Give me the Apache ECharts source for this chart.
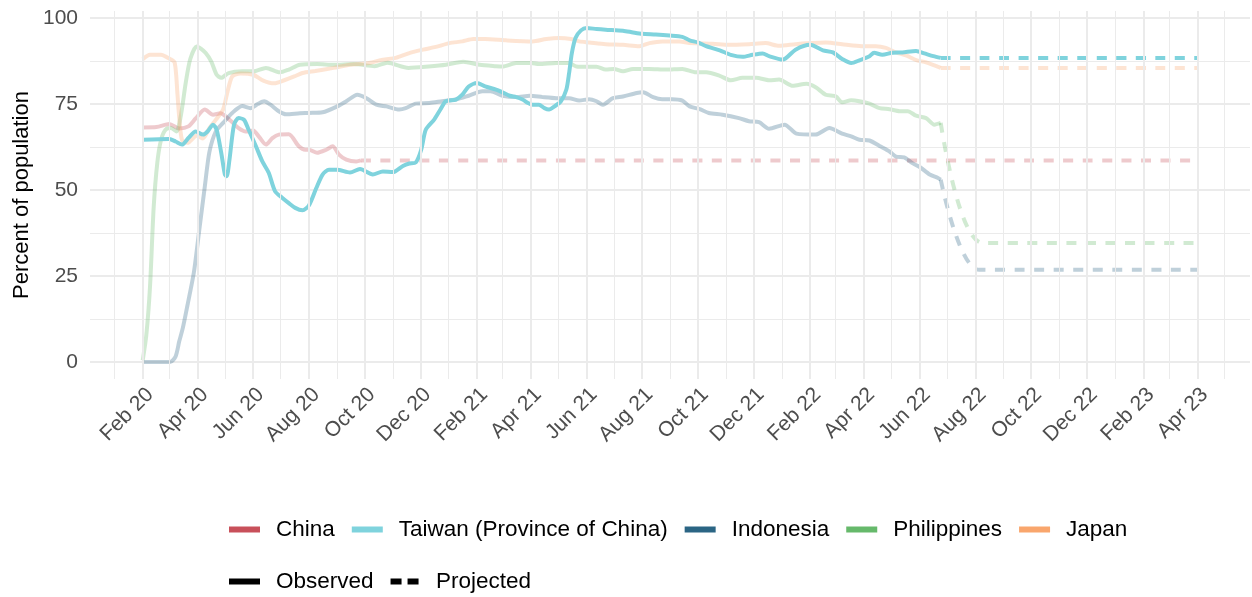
<!DOCTYPE html>
<html>
<head>
<meta charset="utf-8">
<script src="https://cdn.jsdelivr.net/npm/echarts@6/dist/echarts.min.js"></script>
<style>
html,body{margin:0;padding:0;background:#ffffff;}
#chart{width:1252px;height:597px;}
</style>
</head>
<body>
<div id="chart"></div>
<script>
// ---------------- DATA ----------------
const countries = ['China', 'Taiwan (Province of China)', 'Indonesia', 'Philippines', 'Japan'];
const lineTypes = ['Observed', 'Projected'];
const yTicks = [0, 25, 50, 75, 100];
const xTickDates = ['2020-02-01','2020-04-01','2020-06-01','2020-08-01','2020-10-01','2020-12-01',
  '2021-02-01','2021-04-01','2021-06-01','2021-08-01','2021-10-01','2021-12-01',
  '2022-02-01','2022-04-01','2022-06-01','2022-08-01','2022-10-01','2022-12-01',
  '2023-02-01','2023-04-01'];
const monthAbbr = ['Jan','Feb','Mar','Apr','May','Jun','Jul','Aug','Sep','Oct','Nov','Dec'];

const chinaObserved = [['2020-02-01',68.2],['2020-02-16',68.3],['2020-03-01',69.2],['2020-03-12',67.9],['2020-03-22',68.5],['2020-03-30',70.8],['2020-04-09',73.4],['2020-04-18',71.9],['2020-04-26',72.3],['2020-05-07',70.2],['2020-05-16',68],['2020-05-24',67],['2020-06-01',67.3],['2020-06-07',65.6],['2020-06-15',63.2],['2020-06-22',65.1],['2020-06-29',66.1],['2020-07-10',66.2],['2020-07-21',62.7],['2020-07-28',61.7],['2020-08-01',61.7],['2020-08-10',60.8],['2020-08-20',61.7],['2020-08-27',62.7],['2020-09-03',60.3],['2020-09-11',58.8],['2020-09-22',58.3],['2020-09-27',58.6]];
const chinaProjected = [['2020-09-27',58.6],['2023-04-01',58.6]];

const taiwanObserved = [['2020-02-01',64.6],['2020-03-01',64.8],['2020-03-08',64.1],['2020-03-15',63.2],['2020-03-22',65.1],['2020-03-30',67],['2020-04-07',66.1],['2020-04-12',67],['2020-04-18',69],['2020-04-22',67.5],['2020-04-27',60.8],['2020-05-01',54.5],['2020-05-03',54],['2020-05-06',58.8],['2020-05-11',69],['2020-05-16',70.9],['2020-05-22',70.4],['2020-05-27',67.5],['2020-06-04',62.7],['2020-06-11',58.3],['2020-06-18',55],['2020-06-25',49.6],['2020-07-03',47.7],['2020-07-10',46.2],['2020-07-17',44.8],['2020-07-25',44.1],['2020-08-01',45.5],['2020-08-09',50.5],['2020-08-16',54.5],['2020-08-23',55.9],['2020-09-01',55.9],['2020-09-15',55.1],['2020-09-26',56.1],['2020-10-10',54.5],['2020-10-21',55.4],['2020-11-01',55.2],['2020-11-12',57],['2020-11-19',57.7],['2020-11-26',58],['2020-12-02',61.7],['2020-12-07',67.5],['2020-12-16',70.4],['2020-12-23',73.4],['2020-12-29',75.8],['2021-01-09',76.3],['2021-01-16',77.7],['2021-01-23',80.1],['2021-02-01',81.1],['2021-02-10',80.1],['2021-02-22',79.2],['2021-03-01',78.4],['2021-03-09',77.4],['2021-03-16',77],['2021-03-23',76.3],['2021-03-29',75.3],['2021-04-03',74.8],['2021-04-10',74.8],['2021-04-16',73.8],['2021-04-21',73.4],['2021-04-27',74.3],['2021-05-04',75.8],['2021-05-10',79.2],['2021-05-13',84],['2021-05-16',89.8],['2021-05-20',94.2],['2021-05-26',96.4],['2021-06-01',97.1],['2021-06-12',96.8],['2021-06-22',96.6],['2021-07-11',96.3],['2021-07-22',95.8],['2021-08-01',95.4],['2021-08-16',95.2],['2021-08-31',94.9],['2021-09-14',94.5],['2021-09-22',93.5],['2021-10-01',92.9],['2021-10-10',91.8],['2021-10-25',90.6],['2021-11-06',89.3],['2021-11-19',88.7],['2021-11-30',89.3],['2021-12-11',89.7],['2021-12-18',88.9],['2022-01-02',87.9],['2022-01-16',90.8],['2022-02-01',92.2],['2022-02-15',90.6],['2022-02-26',90],['2022-03-08',88.1],['2022-03-18',86.9],['2022-03-27',87.7],['2022-04-07',88.9],['2022-04-12',89.9],['2022-04-21',89.3],['2022-05-02',89.9],['2022-05-13',90],['2022-05-28',90.4],['2022-06-06',89.7],['2022-06-16',88.9],['2022-06-24',88.4]];
const taiwanProjected = [['2022-06-24',88.4],['2023-04-01',88.4]];

const indonesiaObserved = [['2020-02-01',0],['2020-03-02',0],['2020-03-08',1.6],['2020-03-12',6],['2020-03-16',10],['2020-03-21',16.5],['2020-03-28',26],['2020-04-03',38.5],['2020-04-09',51],['2020-04-14',61],['2020-04-21',67],['2020-04-29',69.5],['2020-05-09',72.4],['2020-05-20',74.4],['2020-05-29',73.8],['2020-06-06',75],['2020-06-13',75.8],['2020-06-20',74.8],['2020-06-29',72.9],['2020-07-07',72],['2020-07-22',72.3],['2020-08-01',72.4],['2020-08-16',72.6],['2020-09-01',74.3],['2020-09-11',75.8],['2020-09-23',77.7],['2020-10-03',76.7],['2020-10-14',74.8],['2020-10-25',74.3],['2020-11-08',73.4],['2020-11-15',73.8],['2020-11-26',75.1],['2020-12-11',75.3],['2020-12-25',75.8],['2021-01-09',76.3],['2021-01-23',77.4],['2021-02-07',78.7],['2021-02-16',78.7],['2021-03-01',77.4],['2021-03-16',77],['2021-03-31',77.4],['2021-04-14',77],['2021-04-29',76.7],['2021-05-13',76.7],['2021-05-24',76],['2021-06-04',76.4],['2021-06-12',75.8],['2021-06-19',74.8],['2021-06-30',76.7],['2021-07-11',77.2],['2021-07-26',78.2],['2021-08-02',78.4],['2021-08-13',77],['2021-08-23',76.4],['2021-09-03',76.4],['2021-09-14',76],['2021-09-22',74.3],['2021-10-03',73.5],['2021-10-13',72.4],['2021-10-28',71.9],['2021-11-15',70.9],['2021-11-26',70],['2021-12-07',69.7],['2021-12-18',67.8],['2022-01-04',69],['2022-01-17',66.4],['2022-02-07',66.1],['2022-02-22',68],['2022-03-08',66.4],['2022-03-18',65.6],['2022-03-27',64.6],['2022-04-07',64.4],['2022-04-18',62.8],['2022-04-29',61.2],['2022-05-06',59.7],['2022-05-15',59.5],['2022-05-24',57.8],['2022-06-01',56.7],['2022-06-12',54.5],['2022-06-21',53.5],['2022-06-24',53]];
const indonesiaProjected = [['2022-06-24',53],['2022-08-05',26.8],['2023-04-01',26.8]];

const philippinesObserved = [['2020-02-01',0.5],['2020-02-05',8],['2020-02-09',22],['2020-02-13',45],['2020-02-17',58],['2020-02-21',64.5],['2020-02-26',67.5],['2020-03-03',68],['2020-03-09',67],['2020-03-14',72],['2020-03-19',81],['2020-03-24',88],['2020-03-31',91.7],['2020-04-05',91],['2020-04-10',89.8],['2020-04-16',87.4],['2020-04-22',83.5],['2020-04-27',82.6],['2020-05-05',84],['2020-05-20',84.5],['2020-06-01',84.5],['2020-06-15',85.5],['2020-06-30',84.2],['2020-07-10',85],['2020-07-22',86.4],['2020-08-10',86.6],['2020-08-28',86.4],['2020-09-19',86.6],['2020-10-12',86],['2020-10-26',87],['2020-11-18',85.5],['2020-12-10',85.9],['2020-12-29',86.4],['2021-01-17',87.3],['2021-02-04',86.4],['2021-02-22',86],['2021-03-01',85.9],['2021-03-16',86.9],['2021-04-01',86.9],['2021-04-10',86.6],['2021-04-29',86.9],['2021-05-13',86.9],['2021-05-21',85.9],['2021-06-01',85.8],['2021-06-12',85.8],['2021-06-22',85],['2021-07-01',85.2],['2021-07-11',84.5],['2021-07-22',85.2],['2021-08-09',85.2],['2021-08-27',85],['2021-09-14',85.2],['2021-09-29',84.2],['2021-10-10',84.2],['2021-10-25',83.2],['2021-11-06',81.9],['2021-11-19',82.6],['2021-12-04',82.6],['2021-12-18',81.9],['2021-12-29',82.1],['2022-01-13',80.3],['2022-01-28',80.9],['2022-02-07',79.9],['2022-02-18',77.7],['2022-03-01',77.2],['2022-03-08',75.5],['2022-03-18',76.1],['2022-03-27',75.8],['2022-04-07',75.1],['2022-04-18',73.8],['2022-04-29',73.5],['2022-05-10',72.9],['2022-05-19',72.9],['2022-05-28',71.6],['2022-06-08',70.9],['2022-06-17',69],['2022-06-24',69.5]];
const philippinesProjected = [['2022-06-24',69.5],['2022-08-09',34.6],['2023-04-01',34.6]];

const japanObserved = [['2020-02-01',88],['2020-02-09',89.3],['2020-02-21',89.3],['2020-03-01',88.2],['2020-03-07',87],['2020-03-10',78],['2020-03-12',71],['2020-03-15',64.6],['2020-03-21',63.7],['2020-03-31',65.8],['2020-04-07',65],['2020-04-14',68],['2020-04-21',70.4],['2020-04-29',73.4],['2020-05-04',78.7],['2020-05-09',83],['2020-05-18',83.9],['2020-06-01',83.5],['2020-06-12',81.8],['2020-06-24',81],['2020-07-05',81.9],['2020-07-16',83],['2020-07-25',84],['2020-08-08',84.6],['2020-08-28',85.5],['2020-09-15',86.4],['2020-10-06',86.9],['2020-10-21',87.9],['2020-11-04',88.4],['2020-11-19',89.8],['2020-12-04',90.8],['2020-12-18',91.6],['2021-01-02',92.7],['2021-01-16',93.2],['2021-01-28',93.9],['2021-02-10',93.9],['2021-02-25',93.7],['2021-03-05',93.5],['2021-04-03',93.2],['2021-04-18',93.9],['2021-05-02',94.2],['2021-05-15',93.9],['2021-05-24',93.2],['2021-06-04',92.9],['2021-06-22',92.4],['2021-07-11',92.2],['2021-07-29',91.8],['2021-08-09',92.7],['2021-08-23',93.2],['2021-09-11',93.2],['2021-09-22',92.7],['2021-10-17',92.5],['2021-11-04',92.2],['2021-11-26',92.4],['2021-12-14',92.7],['2021-12-29',91.9],['2022-01-16',92.4],['2022-02-01',92.7],['2022-02-18',92.9],['2022-03-08',92.4],['2022-03-20',92],['2022-04-01',91.8],['2022-04-14',91.8],['2022-04-25',91.3],['2022-05-06',90],['2022-05-17',89.1],['2022-05-29',87.7],['2022-06-08',87.1],['2022-06-24',85.5]];
const japanProjected = [['2022-06-24',85.5],['2023-04-01',85.5]];

// ---------------- STYLE ----------------
const FONT = '"Liberation Sans", Arial, Helvetica, sans-serif';
const colors = {
  'China': '#C8505A',
  'Taiwan (Province of China)': '#7FD3DD',
  'Indonesia': '#2B6584',
  'Philippines': '#66B96B',
  'Japan': '#F9A66D'
};
const FADE = 0.3;
const LW = 4;
const DASH = [10, 9.5];

function toTime(s) { const p = s.split('-'); return new Date(+p[0], +p[1] - 1, +p[2]).getTime(); }
function pts(arr) { return arr.map(function (r) { return [toTime(r[0]), r[1]]; }); }

const allSeriesData = [chinaObserved, chinaProjected, taiwanObserved, taiwanProjected, indonesiaObserved,
  indonesiaProjected, philippinesObserved, philippinesProjected, japanObserved, japanProjected];
let tMin = Infinity, tMax = -Infinity;
allSeriesData.forEach(function (a) { a.forEach(function (r) { const t = toTime(r[0]); if (t < tMin) tMin = t; if (t > tMax) tMax = t; }); });
const span = tMax - tMin;
const xMin = tMin - 0.05 * span, xMax = tMax + 0.05 * span;

const tickTimes = xTickDates.map(toTime);
const gridMonths = [];
for (let y = 2019; y <= 2023; y++) for (let m = 0; m < 12; m++) {
  const t = new Date(y, m, 1).getTime();
  if (t > xMin && t < xMax) gridMonths.push(t);
}

function fmtDate(v) {
  const dt = new Date(v);
  return monthAbbr[dt.getMonth()] + ' ' + String(dt.getFullYear()).slice(2);
}

function dataLine(name, arr, projected, faded, z) {
  return {
    type: 'line', name: name, xAxisIndex: 1, yAxisIndex: 1,
    data: pts(arr), showSymbol: false, symbol: 'none', smooth: 0.25, clip: false,
    silent: true, z: z, emphasis: { disabled: true },
    lineStyle: { color: colors[name.replace(/ \|.*$/, '')], width: LW, opacity: faded ? FADE : 1,
      type: projected ? DASH : 'solid', cap: 'butt' }
  };
}

const series = [];
series.push({
  type: 'line', name: '__grid', xAxisIndex: 0, yAxisIndex: 0, data: [[xMin, 0.5]],
  showSymbol: false, symbol: 'none', silent: true, z: 1, lineStyle: { opacity: 0 },
  markLine: {
    silent: true, symbol: ['none', 'none'], animation: false, label: { show: false },
    emphasis: { disabled: true },
    data: gridMonths.map(function (t) {
      const major = tickTimes.indexOf(t) >= 0;
      return { xAxis: t, lineStyle: { color: '#EBEBEB', width: major ? 2 : 1, type: 'solid' } };
    })
  }
});

const faded = [
  ['China', chinaObserved, chinaProjected],
  ['Indonesia', indonesiaObserved, indonesiaProjected],
  ['Philippines', philippinesObserved, philippinesProjected],
  ['Japan', japanObserved, japanProjected]
];
faded.forEach(function (f) {
  series.push(dataLine(f[0] + ' |obs', f[1], false, true, 3));
  series.push(dataLine(f[0] + ' |proj', f[2], true, true, 3));
});
series.push(dataLine('Taiwan (Province of China) |obs', taiwanObserved, false, false, 4));
series.push(dataLine('Taiwan (Province of China) |proj', taiwanProjected, true, false, 4));

countries.forEach(function (c) {
  series.push({ type: 'line', name: c, xAxisIndex: 1, yAxisIndex: 1, data: [], color: colors[c],
    itemStyle: { color: colors[c] }, lineStyle: { color: colors[c] } });
});
lineTypes.forEach(function (c) {
  series.push({ type: 'line', name: c, xAxisIndex: 1, yAxisIndex: 1, data: [], color: '#000000',
    itemStyle: { color: '#000000' }, lineStyle: { color: '#000000' } });
});

const legendText = { fontSize: 22.5, color: '#000000', fontFamily: FONT, padding: [0, 0, 0, 11] };

const option = {
  animation: false,
  backgroundColor: '#ffffff',
  textStyle: { fontFamily: FONT },
  grid: [
    { left: 90, right: 2, top: 11, bottom: 218, containLabel: false },
    { left: 90, right: 2, top: 18, bottom: 235, containLabel: false }
  ],
  xAxis: [
    {
      type: 'value', gridIndex: 0, min: xMin, max: xMax,
      axisLine: { show: false }, axisTick: { show: false, customValues: tickTimes },
      splitLine: { show: false },
      axisLabel: {
        customValues: tickTimes, rotate: 45, margin: 5, color: '#4D4D4D', fontSize: 21,
        fontFamily: FONT, hideOverlap: false, align: 'right', verticalAlign: 'top',
        formatter: function (v) { return fmtDate(v); }
      }
    },
    { type: 'value', gridIndex: 1, min: xMin, max: xMax, show: false }
  ],
  yAxis: [
    {
      type: 'value', gridIndex: 0, min: 0, max: 1,
      axisLine: { show: false }, axisTick: { show: false }, axisLabel: { show: false },
      splitLine: { show: false },
      name: 'Percent of population', nameLocation: 'middle', nameRotate: 90, nameGap: 57,
      nameTextStyle: { fontSize: 22, color: '#000000', fontFamily: FONT }
    },
    {
      type: 'value', gridIndex: 1, min: yTicks[0], max: yTicks[yTicks.length - 1], interval: 25,
      axisLine: { show: false }, axisTick: { show: false },
      axisLabel: { color: '#4D4D4D', fontSize: 21, margin: 12, fontFamily: FONT },
      splitLine: { lineStyle: { color: '#EBEBEB', width: 2 } },
      minorTick: { show: false, splitNumber: 2 },
      minorSplitLine: { show: true, lineStyle: { color: '#EBEBEB', width: 1 } }
    }
  ],
  legend: [
    {
      left: 229, top: 518, padding: 0, orient: 'horizontal', itemWidth: 31, itemHeight: 6, itemGap: 17,
      selectedMode: false, textStyle: legendText,
      data: countries.map(function (c) { return { name: c, icon: 'rect' }; })
    },
    {
      left: 229, top: 570, padding: 0, orient: 'horizontal', itemWidth: 31, itemHeight: 6, itemGap: 17,
      selectedMode: false, textStyle: legendText,
      data: [
        { name: 'Observed', icon: 'rect' },
        { name: 'Projected', icon: 'path://M0,0h11v6h-11zM17,0h11v6h-11z' }
      ]
    }
  ],
  series: series
};

const chart = echarts.init(document.getElementById('chart'), null, { renderer: 'canvas' });
chart.setOption(option);
</script>
</body>
</html>
